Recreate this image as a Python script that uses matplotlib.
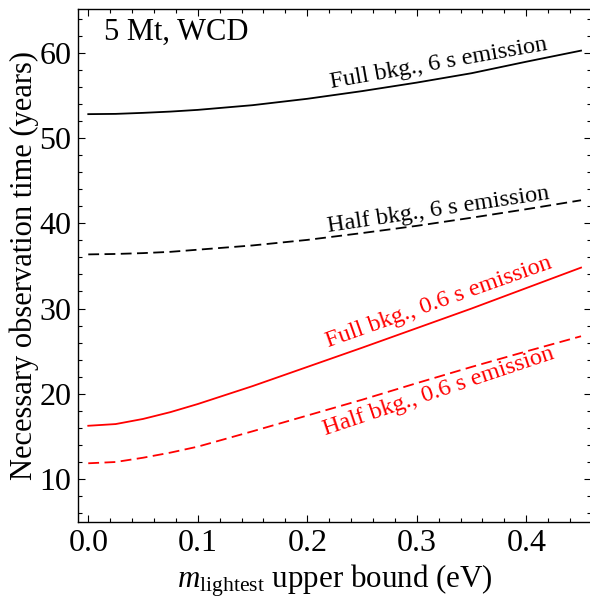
"""
    Necessary observation time vs m_lightest upper bound (5 Mt WCD)
"""
# Includes
import matplotlib
matplotlib.use("Agg")
import matplotlib.pyplot as plt
from matplotlib.ticker import MultipleLocator

# Data
m_lightest = [0.0, 0.025, 0.05, 0.075, 0.1, 0.15, 0.2, 0.25, 0.3, 0.35, 0.4, 0.45]
full_6s = [52.8, 52.83, 52.95, 53.1, 53.3, 53.85, 54.6, 55.5, 56.5, 57.6, 58.95, 60.25]
half_6s = [36.35, 36.4, 36.5, 36.65, 36.9, 37.4, 38.05, 38.85, 39.7, 40.65, 41.65, 42.7]
full_06s = [16.25, 16.45, 17.05, 17.85, 18.8, 20.9, 23.15, 25.4, 27.7, 30.0, 32.4, 34.8]
half_06s = [11.85, 12.0, 12.5, 13.1, 13.8, 15.6, 17.45, 19.3, 21.25, 23.15, 24.97, 26.75]

# label text, x, y, rotation, colour
curve_labels = [
    ("Full bkg., 6 s emission", 0.3197, 58.7, 10.0, "black"),
    ("Half bkg., 6 s emission", 0.3197, 41.6, 8.5, "black"),
    ("Full bkg., 0.6 s emission", 0.3197, 30.75, 19.5, "red"),
    ("Half bkg., 0.6 s emission", 0.3203, 20.25, 18.5, "red"),
]

plt.rcParams['font.family'] = ['Liberation Serif', 'DejaVu Serif']
plt.rcParams['mathtext.fontset'] = 'custom'
plt.rcParams['mathtext.rm'] = 'Liberation Serif'
plt.rcParams['mathtext.it'] = 'Liberation Serif:italic'


def main():
    fig = plt.figure(figsize=(5.9, 6.01), dpi=100)
    ax = fig.add_axes([0.1329, 0.1314, 0.8686, 0.8536])

    ax.plot(m_lightest, full_6s, color="black", lw=1.3)
    ax.plot(m_lightest, half_6s, color="black", lw=1.3, dashes=(6, 3))
    ax.plot(m_lightest, full_06s, color="red", lw=1.3)
    ax.plot(m_lightest, half_06s, color="red", lw=1.3, dashes=(6, 3))

    for text, x, y, rot, col in curve_labels:
        ax.text(x, y, text, color=col, fontsize=17.5, rotation=rot,
                rotation_mode="anchor", ha="center", va="center")

    ax.text(0.014, 62.4, "5 Mt, WCD", fontsize=22, ha="left", va="center")

    ax.set_xlim(-0.009, 0.459)
    ax.set_ylim(4.96, 65.13)
    ax.xaxis.set_major_locator(MultipleLocator(0.1))
    ax.xaxis.set_minor_locator(MultipleLocator(0.02))
    ax.yaxis.set_major_locator(MultipleLocator(10))
    ax.yaxis.set_minor_locator(MultipleLocator(2))
    ax.xaxis.set_major_formatter(plt.FuncFormatter(lambda v, p: "%.1f" % v))
    ax.tick_params(which="both", direction="in", top=True, right=True,
                   labelsize=23, width=0.8)
    ax.tick_params(which="major", length=5, pad=5)
    ax.tick_params(which="minor", length=3)
    for s in ax.spines.values():
        s.set_linewidth(1.0)

    ax.set_xlabel(r"$m_{\mathrm{lightest}}$ upper bound (eV)", fontsize=22.3, labelpad=3)
    ax.set_ylabel("Necessary observation time (years)", fontsize=22, labelpad=0)

    fig.savefig("out.png", dpi=100)


main()
